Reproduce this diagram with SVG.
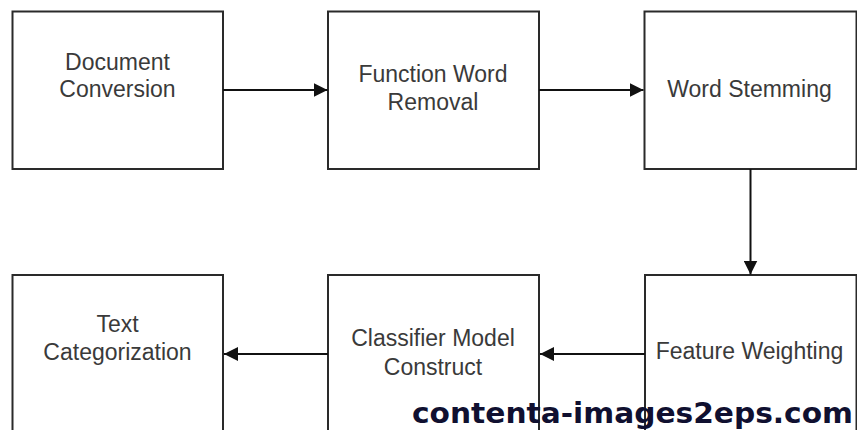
<svg xmlns="http://www.w3.org/2000/svg" width="857" height="430" viewBox="0 0 857 430">
<style>
.box{fill:#fff;stroke:#2a2a2a;stroke-width:2}
.lbl{font-family:"Liberation Sans",Arial,sans-serif;font-size:23px;fill:#3a3a3a;text-anchor:middle}
.con{stroke:#111;stroke-width:2;fill:none}
.wm{font-family:"DejaVu Sans",Verdana,sans-serif;font-weight:bold;font-size:28px;fill:#101030}
</style>
<defs>
<marker id="ah" viewBox="0 0 14 14" refX="14" refY="7" markerWidth="14" markerHeight="14" markerUnits="userSpaceOnUse" orient="auto">
<path d="M0,0 L14,7 L0,14 Z" fill="#111"/>
</marker>
</defs>
<rect width="857" height="430" fill="#fff"/>
<g id="n1"><rect class="box" x="12.5" y="11.5" width="210.5" height="157.5"/><text class="lbl" x="117.5" y="70">Document</text><text class="lbl" x="117.5" y="97">Conversion</text></g>
<g id="n2"><rect class="box" x="328" y="11.5" width="211" height="157.5"/><text class="lbl" x="433" y="82">Function Word</text><text class="lbl" x="433" y="110">Removal</text></g>
<g id="n3"><rect class="box" x="644.5" y="11.5" width="212" height="157.5"/><text class="lbl" x="749.5" y="97">Word Stemming</text></g>
<g id="n4"><rect class="box" x="645" y="275" width="211.5" height="170"/><text class="lbl" x="749.5" y="359">Feature Weighting</text></g>
<g id="n5"><rect class="box" x="328" y="275" width="211" height="170"/><text class="lbl" x="433" y="346">Classifier Model</text><text class="lbl" x="433" y="375">Construct</text></g>
<g id="n6"><rect class="box" x="12.5" y="275" width="210.5" height="170"/><text class="lbl" x="117.5" y="332">Text</text><text class="lbl" x="117.5" y="360">Categorization</text></g>
<g id="connectors">
<line class="con" x1="223" y1="90" x2="327.5" y2="90" marker-end="url(#ah)"/>
<line class="con" x1="539" y1="90" x2="643.5" y2="90" marker-end="url(#ah)"/>
<line class="con" x1="750.5" y1="169" x2="750.5" y2="274.5" marker-end="url(#ah)"/>
<line class="con" x1="645" y1="354" x2="540" y2="354" marker-end="url(#ah)"/>
<line class="con" x1="328" y1="354" x2="224" y2="354" marker-end="url(#ah)"/>
</g>
<text class="wm" x="412" y="423" textLength="441" lengthAdjust="spacingAndGlyphs">contenta-images2eps.com</text>
</svg>
